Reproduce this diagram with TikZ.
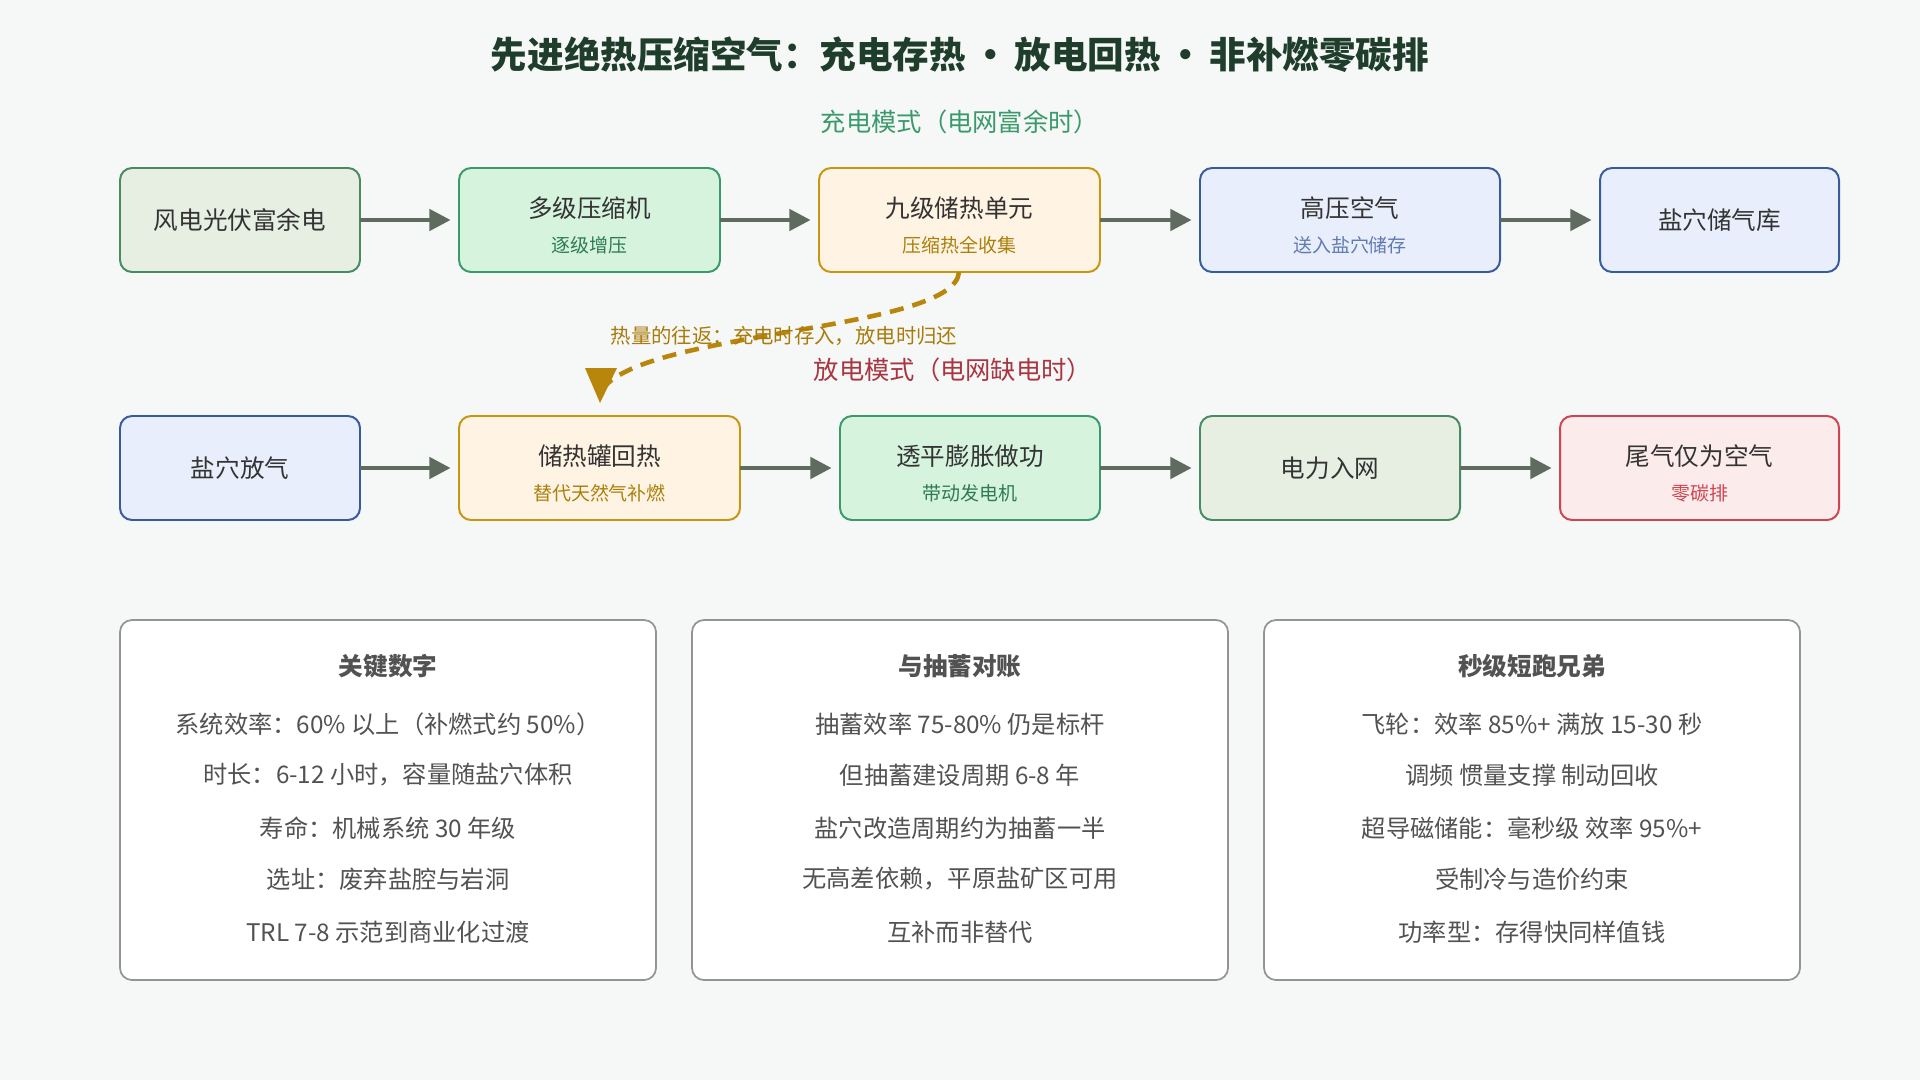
\documentclass[tikz,border=0pt]{standalone}
\usepackage{fontspec}
\setmainfont{Noto Sans CJK SC}
\usetikzlibrary{arrows.meta}
\definecolor{bg}{HTML}{F6F8F7}
\definecolor{ttl}{HTML}{1F3D2B}
\definecolor{gA}{HTML}{E6EFE2}\definecolor{gAb}{HTML}{4A8A62}
\definecolor{gB}{HTML}{D6F3DE}\definecolor{gBb}{HTML}{3A9A6A}
\definecolor{oA}{HTML}{FFF3E3}\definecolor{oAb}{HTML}{C8960F}
\definecolor{bA}{HTML}{E8EEFB}\definecolor{bAb}{HTML}{3A5A9E}
\definecolor{rA}{HTML}{FCEBEB}\definecolor{rAb}{HTML}{D04452}
\definecolor{arr}{HTML}{5F6B5E}
\definecolor{heat}{HTML}{B8860B}
\definecolor{txt}{HTML}{333333}
\begin{document}
\begin{tikzpicture}[x=0.05cm,y=-0.05cm,
 box/.style={draw,line width=2.8pt,rounded corners=0.6cm,inner sep=0pt,text=txt},
 mt/.style={font=\fontsize{35}{38}\selectfont,text=txt},
 st/.style={font=\fontsize{27}{30}\selectfont},
 flow/.style={arr,line width=6pt,-{Triangle[length=30pt,width=30pt]},shorten >=12pt},
 panel/.style={draw=black!42,line width=2.5pt,fill=white,rounded corners=0.6cm},
 pl/.style={font=\fontsize{34.5}{37}\selectfont,text=txt!85!white}]
\fill[bg] (0,0) rectangle (1920,1080);
\useasboundingbox (0,0) rectangle (1920,1080);
\node[text=ttl,font=\fontsize{52}{58}\selectfont\bfseries] (title) at (960,55) {先进绝热压缩空气：充电存热\,•\,放电回热\,•\,非补燃零碳排};
\node[text=gBb,font=\fontsize{36}{40}\selectfont] (cm) at (960,122) {充电模式（电网富余时）};
\newcommand{\bx}[9]{%
 \draw[box,draw=#8,fill=#7] (#1,#3) rectangle (#2,#4);
 \node[mt] (#9) at ({(#1+#2)/2},{(#3+#4)/2+(#6)}) {#5};}
\bx{120}{360}{168}{272}{风电光伏富余电}{0}{gA}{gAb}{a1}
\bx{459}{720}{168}{272}{多级压缩机}{-12}{gB}{gBb}{a2}
\node[st,text=gBb!80!black] at (589.5,245) {逐级增压};
\bx{819}{1100}{168}{272}{九级储热单元}{-12}{oA}{oAb}{a3}
\node[st,text=oAb!85!black] at (959.5,245) {压缩热全收集};
\bx{1200}{1500}{168}{272}{高压空气}{-12}{bA}{bAb}{a4}
\node[st,text=bAb!80!white] at (1350,245) {送入盐穴储存};
\bx{1600}{1839}{168}{272}{盐穴储气库}{0}{bA}{bAb}{a5}
\coordinate (r1a) at (360,220);\coordinate (r1b) at (459,220);
\coordinate (r2a) at (720,220);\coordinate (r2b) at (819,220);
\coordinate (r3a) at (1100,220);\coordinate (r3b) at (1200,220);
\coordinate (r4a) at (1500,220);\coordinate (r4b) at (1600,220);
\foreach \i in {1,2,3,4}{\draw[flow] (r\i a) -- (r\i b);}
\bx{120}{360}{416}{520}{盐穴放气}{0}{bA}{bAb}{b1}
\bx{459}{740}{416}{520}{储热罐回热}{-12}{oA}{oAb}{b2}
\node[st,text=oAb!85!black] at (599.5,493) {替代天然气补燃};
\bx{840}{1100}{416}{520}{透平膨胀做功}{-12}{gB}{gBb}{b3}
\node[st,text=gBb!80!black] at (970,493) {带动发电机};
\bx{1200}{1460}{416}{520}{电力入网}{0}{gA}{gAb}{b4}
\bx{1560}{1839}{416}{520}{尾气仅为空气}{-12}{rA}{rAb}{b5}
\node[st,text=rAb] at (1699.5,493) {零碳排};
\coordinate (s1a) at (360,468);\coordinate (s1b) at (459,468);
\coordinate (s2a) at (740,468);\coordinate (s2b) at (840,468);
\coordinate (s3a) at (1100,468);\coordinate (s3b) at (1200,468);
\coordinate (s4a) at (1460,468);\coordinate (s4b) at (1560,468);
\foreach \i in {1,2,3,4}{\draw[flow] (s\i a) -- (s\i b);}
\coordinate (h1) at (959,272);\coordinate (h2) at (600,403);
\draw[heat,line width=6.5pt,dash pattern=on 20pt off 13pt]
 (h1) .. controls (955,330) and (660,330) .. (606,385);
\fill[heat] (585,368) -- (617,368) -- (h2) -- cycle;
\node[text=heat!92!black,font=\fontsize{29}{32}\selectfont] (hl) at (784,336) {热量的往返：充电时存入，放电时归还};
\node[text=rAb!80!black,font=\fontsize{36}{40}\selectfont] (dm) at (953,370) {放电模式（电网缺电时）};
\newcommand{\pan}[8]{%
 \draw[panel] (#1,620) rectangle (#2,980);
 \node[pl,font=\fontsize{35}{37}\selectfont\bfseries] at ({(#1+#2)/2},666) {#3};
 \node[pl] at ({(#1+#2)/2},724) {#4};
 \node[pl] at ({(#1+#2)/2},775) {#5};
 \node[pl] at ({(#1+#2)/2},828) {#6};
 \node[pl] at ({(#1+#2)/2},879) {#7};
 \node[pl] at ({(#1+#2)/2},932) {#8};}
\pan{120}{656}{关键数字}{系统效率：60\% 以上（补燃式约 50\%）}{时长：6-12 小时，容量随盐穴体积}{寿命：机械系统 30 年级}{选址：废弃盐腔与岩洞}{TRL 7-8 示范到商业化过渡}
\pan{692}{1228}{与抽蓄对账}{抽蓄效率 75-80\% 仍是标杆}{但抽蓄建设周期 6-8 年}{盐穴改造周期约为抽蓄一半}{无高差依赖，平原盐矿区可用}{互补而非替代}
\pan{1264}{1800}{秒级短跑兄弟}{飞轮：效率 85\%+ 满放 15-30 秒}{调频 惯量支撑 制动回收}{超导磁储能：毫秒级 效率 95\%+}{受制冷与造价约束}{功率型：存得快同样值钱}
\end{tikzpicture}
\end{document}
